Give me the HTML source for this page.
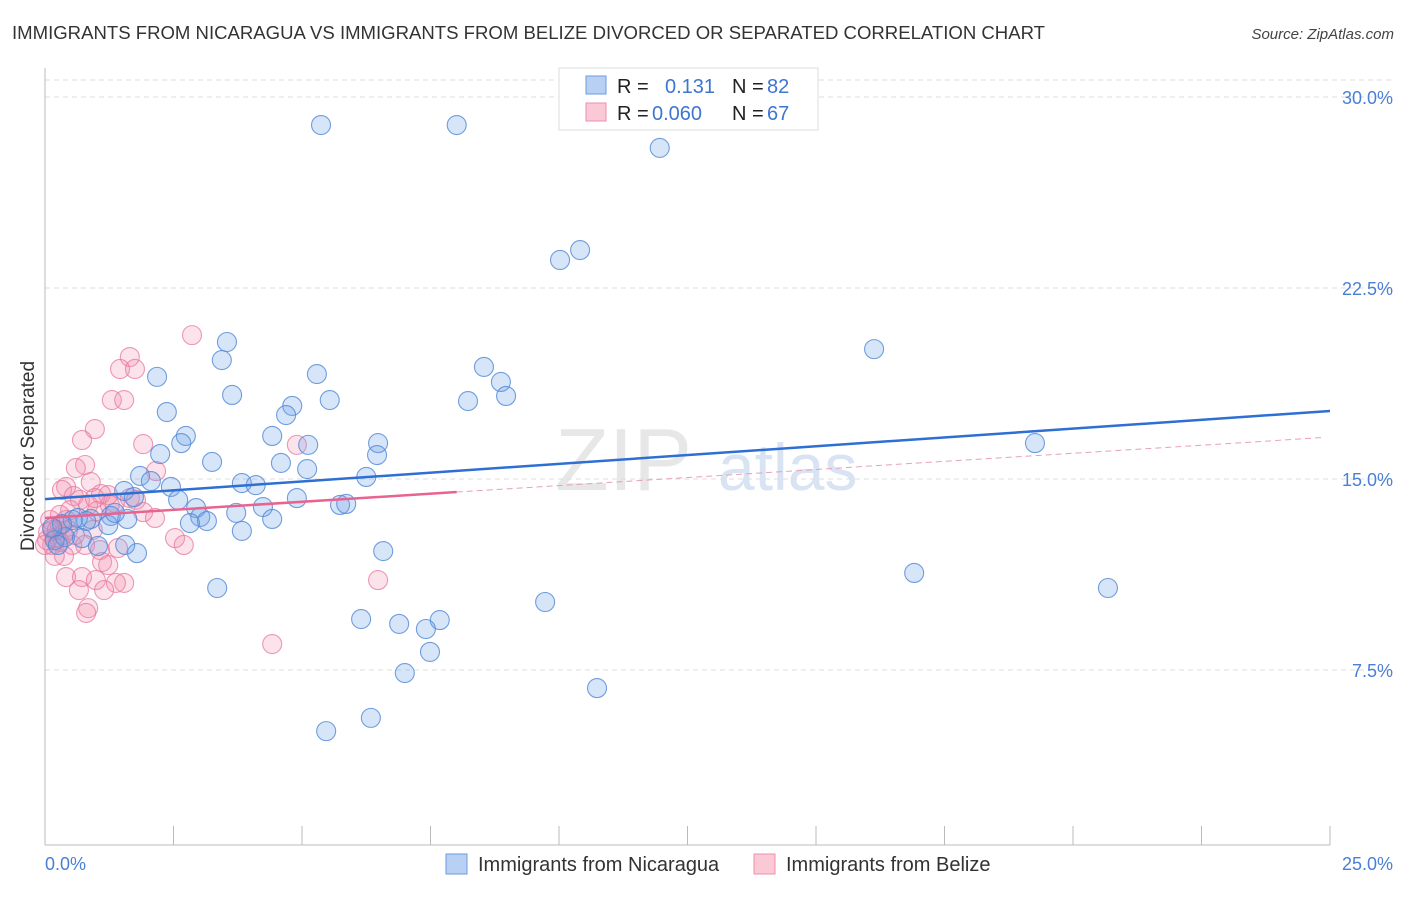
<!DOCTYPE html>
<html><head><meta charset="utf-8"><style>
body{margin:0;background:#fff;font-family:"Liberation Sans",sans-serif;}
svg text{font-family:"Liberation Sans",sans-serif;}
</style></head><body>
<svg id="chart" width="1406" height="892" xmlns="http://www.w3.org/2000/svg">
<text x="12" y="39" font-size="18" fill="#333" textLength="1033" lengthAdjust="spacingAndGlyphs">IMMIGRANTS FROM NICARAGUA VS IMMIGRANTS FROM BELIZE DIVORCED OR SEPARATED CORRELATION CHART</text>
<text x="1394" y="39" font-size="15" fill="#444" text-anchor="end" font-style="italic">Source: ZipAtlas.com</text>
<text x="555" y="490" font-size="88" fill="#ddd" font-family="Liberation Serif" opacity="0.7">ZIP</text>
<text x="718" y="490" font-size="66" fill="#c8d8ee" opacity="0.7">atlas</text>
<g id="grid"></g>
<g id="axes"></g>
<g id="pts"></g>
<g id="lines"></g>
<text transform="translate(34,456) rotate(-90)" font-size="19" fill="#333" text-anchor="middle">Divorced or Separated</text>
<text x="45" y="870" font-size="18" fill="#4a7fd4">0.0%</text>
<text x="1393" y="870" font-size="18" fill="#4a7fd4" text-anchor="end">25.0%</text>
<g>
<rect x="559" y="68" width="259" height="62" fill="#fff" stroke="#ddd"/>
<rect x="586" y="76" width="20" height="18" fill="#b8d0f4" stroke="#6d9be0"/>
<rect x="586" y="103" width="20" height="18" fill="#fbc8d6" stroke="#ec90ae"/>
<text x="617" y="93" font-size="20" fill="#222">R =</text><text x="665" y="93" font-size="20" fill="#3d75d0">0.131</text>
<text x="732" y="93" font-size="20" fill="#222">N =</text><text x="767" y="93" font-size="20" fill="#3d75d0">82</text>
<text x="617" y="120" font-size="20" fill="#222">R =</text><text x="652" y="120" font-size="20" fill="#3d75d0">0.060</text>
<text x="732" y="120" font-size="20" fill="#222">N =</text><text x="767" y="120" font-size="20" fill="#3d75d0">67</text>
</g>
<g>
<rect x="446" y="854" width="21" height="20" fill="#b8d0f4" stroke="#6d9be0"/>
<text x="478" y="871" font-size="20" fill="#333">Immigrants from Nicaragua</text>
<rect x="754" y="854" width="21" height="20" fill="#fbc8d6" stroke="#ec90ae"/>
<text x="786" y="871" font-size="20" fill="#333">Immigrants from Belize</text>
</g>
</svg>
<script>
const yTicks=[7.5,15,22.5,30];
const yTickLabels=["7.5%","15.0%","22.5%","30.0%"];
const blueX=[5.37,8.01,11.96,10.02,10.41,16.13,19.26,16.91,20.68,3.54,3.44,2.18,3.64,2.37,5.29,4.81,4.69,5.54,8.54,8.87,8.97,8.23,4.42,2.74,2.65,2.24,5.12,6.48,6.46,3.25,4.59,5.10,6.25,1.85,2.06,3.83,4.10,2.45,1.54,4.90,2.59,1.73,2.94,4.24,5.74,5.86,3.72,3.02,3.15,4.42,2.82,1.28,1.60,0.89,0.64,0.80,3.83,6.58,1.79,1.56,1.03,0.39,0.19,3.35,6.15,9.73,6.89,7.68,7.41,7.49,7.00,10.74,6.34,5.47,0.54,1.23,0.72,0.33,1.36,0.14,0.25];
const blueY=[28.90,28.90,28.00,23.60,23.99,20.10,16.41,11.31,10.72,20.38,19.67,19.01,18.30,17.63,19.12,17.87,17.51,18.10,19.40,18.81,18.26,18.06,16.69,16.69,16.41,15.98,16.34,16.41,15.94,15.67,15.63,15.39,15.08,15.12,14.92,14.84,14.76,14.69,14.53,14.25,14.18,14.29,13.86,13.90,13.98,14.02,13.67,13.51,13.35,13.43,13.27,13.55,13.43,13.43,13.47,13.35,12.96,12.17,12.09,12.41,12.37,12.72,12.60,10.72,9.50,10.17,9.31,9.46,9.11,8.21,7.38,6.79,5.62,5.10,13.39,13.19,12.68,13.23,13.67,13.08,12.41];
const pinkX=[2.86,1.65,1.46,1.75,1.30,1.54,0.97,0.72,1.91,2.16,0.78,0.60,0.41,0.33,0.89,0.56,0.68,1.09,1.23,1.65,1.77,1.36,0.84,0.49,0.29,1.91,2.14,1.01,0.93,0.41,0.10,0.06,0.19,0.29,0.14,0.53,0.78,1.07,1.42,2.53,2.70,0.37,0.19,1.11,1.23,0.41,0.72,0.99,1.54,1.38,0.66,1.15,0.84,0.80,4.90,6.48,4.42,0.04,0.14,0.29,0.35,0.23,0.00,0.45,0.58,1.26,0.97];
const pinkY=[20.65,19.79,19.32,19.32,18.10,18.10,16.96,16.53,16.37,15.31,15.55,15.43,14.69,14.57,14.88,14.33,14.18,14.41,14.37,14.25,14.18,14.06,13.98,13.78,13.59,13.70,13.47,13.74,13.00,13.39,13.39,12.92,12.68,12.53,12.41,12.41,12.41,12.21,12.29,12.68,12.41,11.98,11.98,11.74,11.62,11.15,11.15,11.03,10.92,10.92,10.64,10.64,9.93,9.74,16.34,11.03,8.52,12.60,13.00,13.19,12.80,13.00,12.41,13.00,12.80,13.98,14.25];
const blueTrend=[14.21,17.67];
const pinkTrend=[13.47,0.127];
const pinkSolidEnd=8.01;
const NS="http://www.w3.org/2000/svg";
const X0=45,X1=1330,XMAX=25,Y0=861,YPX=191/7.5;
function sx(v){return X0+v/XMAX*(X1-X0);}
function sy(v){return Y0-v*YPX;}
function mk(parent,tag,attrs){const e=document.createElementNS(NS,tag);for(const k in attrs)e.setAttribute(k,attrs[k]);document.getElementById(parent).appendChild(e);return e;}
let g=mk('grid','line',{x1:X0,x2:1394,y1:80,y2:80,stroke:'#ddd','stroke-dasharray':'5,4'});


yTicks.forEach((t,i)=>{
 const l=mk('grid','line',{x1:X0,x2:1394,y1:sy(t),y2:sy(t),stroke:'#ddd','stroke-dasharray':'5,4'});
 
 
 const tx=mk('grid','text',{x:1393,y:sy(t)+7,'font-size':18,fill:'#4a7fd4','text-anchor':'end'});
 tx.textContent=yTickLabels[i];
 
 
});
let ax=mk('axes','line',{x1:X0,x2:X0,y1:68,y2:845,stroke:'#bbb'});


ax=mk('axes','line',{x1:X0,x2:X1,y1:845,y2:845,stroke:'#bbb'});


for(let i=0;i<=10;i++){
 const tk=mk('axes','line',{x1:sx(i*2.5),x2:sx(i*2.5),y1:826,y2:845,stroke:'#bbb'});
 
 
}
pinkX.forEach((x,i)=>{
 const c=mk('pts','circle',{cx:sx(x),cy:sy(pinkY[i]),r:9.5,fill:'rgba(242,140,170,0.25)',stroke:'rgba(230,120,160,0.75)','stroke-width':1.1});
 
 
});
blueX.forEach((x,i)=>{
 const c=mk('pts','circle',{cx:sx(x),cy:sy(blueY[i]),r:9.5,fill:'rgba(110,160,230,0.28)',stroke:'rgba(80,135,215,0.8)','stroke-width':1.1});
 
 
});
let t=mk('lines','line',{x1:sx(0),y1:sy(blueTrend[0]),x2:sx(25),y2:sy(blueTrend[1]),stroke:'#2e6fd3','stroke-width':2.5});


t=mk('lines','line',{x1:sx(0),y1:sy(pinkTrend[0]),x2:sx(pinkSolidEnd),y2:sy(pinkTrend[0]+pinkTrend[1]*pinkSolidEnd),stroke:'#e8638f','stroke-width':2.5});


t=mk('lines','line',{x1:sx(pinkSolidEnd),y1:sy(pinkTrend[0]+pinkTrend[1]*pinkSolidEnd),x2:sx(24.9),y2:sy(pinkTrend[0]+pinkTrend[1]*24.9),stroke:'#e8a0b8','stroke-width':1,'stroke-dasharray':'6,4'});


</script>
</body></html>
